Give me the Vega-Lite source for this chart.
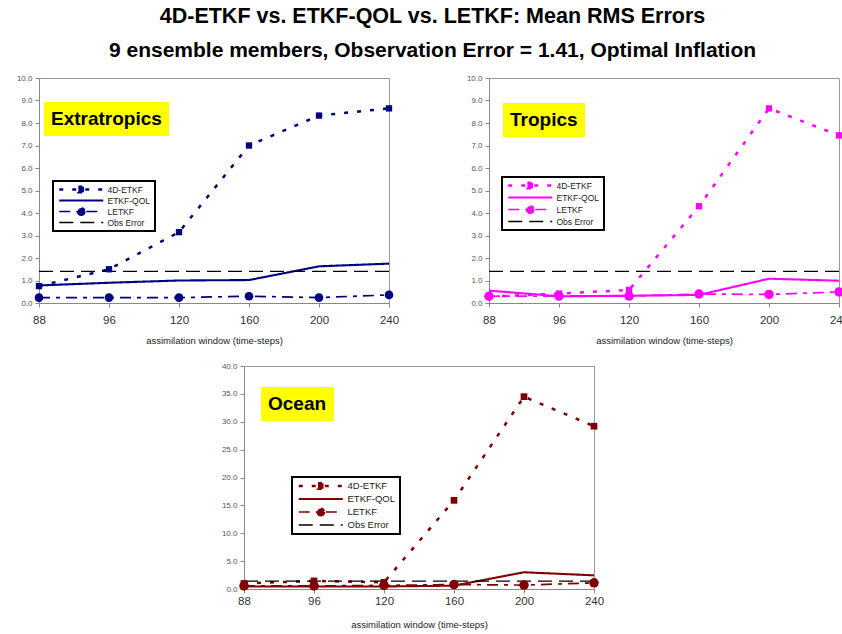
{
  "$schema": "https://vega.github.io/schema/vega-lite/v6.json",
  "background": "white",
  "padding": {"left": 15, "top": 5, "right": 0, "bottom": 0},
  "title": {
    "text": "4D-ETKF vs. ETKF-QOL vs. LETKF: Mean RMS Errors",
    "subtitle": "9 ensemble members, Observation Error = 1.41, Optimal Inflation",
    "font": "Liberation Sans",
    "fontSize": 21.5,
    "fontWeight": "bold",
    "color": "#000",
    "subtitleFont": "Liberation Sans",
    "subtitleFontSize": 21,
    "subtitleFontWeight": "bold",
    "subtitleColor": "#000",
    "subtitlePadding": 12.5,
    "anchor": "middle",
    "offset": 13
  },
  "datasets": {
    "rms": [
      {"panel": "Extratropics", "series": "4D-ETKF", "window": "88", "value": 0.75},
      {"panel": "Extratropics", "series": "4D-ETKF", "window": "96", "value": 1.5},
      {"panel": "Extratropics", "series": "4D-ETKF", "window": "120", "value": 3.15},
      {"panel": "Extratropics", "series": "4D-ETKF", "window": "160", "value": 7.0},
      {"panel": "Extratropics", "series": "4D-ETKF", "window": "200", "value": 8.33},
      {"panel": "Extratropics", "series": "4D-ETKF", "window": "240", "value": 8.65},
      {"panel": "Extratropics", "series": "ETKF-QOL", "window": "88", "value": 0.78},
      {"panel": "Extratropics", "series": "ETKF-QOL", "window": "96", "value": 0.9},
      {"panel": "Extratropics", "series": "ETKF-QOL", "window": "120", "value": 1.0},
      {"panel": "Extratropics", "series": "ETKF-QOL", "window": "160", "value": 1.02},
      {"panel": "Extratropics", "series": "ETKF-QOL", "window": "200", "value": 1.63},
      {"panel": "Extratropics", "series": "ETKF-QOL", "window": "240", "value": 1.75},
      {"panel": "Extratropics", "series": "LETKF", "window": "88", "value": 0.24},
      {"panel": "Extratropics", "series": "LETKF", "window": "96", "value": 0.24},
      {"panel": "Extratropics", "series": "LETKF", "window": "120", "value": 0.24},
      {"panel": "Extratropics", "series": "LETKF", "window": "160", "value": 0.3},
      {"panel": "Extratropics", "series": "LETKF", "window": "200", "value": 0.24},
      {"panel": "Extratropics", "series": "LETKF", "window": "240", "value": 0.36},
      {"panel": "Extratropics", "series": "Obs Error", "window": "88", "value": 1.41},
      {"panel": "Extratropics", "series": "Obs Error", "window": "96", "value": 1.41},
      {"panel": "Extratropics", "series": "Obs Error", "window": "120", "value": 1.41},
      {"panel": "Extratropics", "series": "Obs Error", "window": "160", "value": 1.41},
      {"panel": "Extratropics", "series": "Obs Error", "window": "200", "value": 1.41},
      {"panel": "Extratropics", "series": "Obs Error", "window": "240", "value": 1.41},
      {"panel": "Tropics", "series": "4D-ETKF", "window": "88", "value": 0.28},
      {"panel": "Tropics", "series": "4D-ETKF", "window": "96", "value": 0.42},
      {"panel": "Tropics", "series": "4D-ETKF", "window": "120", "value": 0.58},
      {"panel": "Tropics", "series": "4D-ETKF", "window": "160", "value": 4.3},
      {"panel": "Tropics", "series": "4D-ETKF", "window": "200", "value": 8.65},
      {"panel": "Tropics", "series": "4D-ETKF", "window": "240", "value": 7.45},
      {"panel": "Tropics", "series": "ETKF-QOL", "window": "88", "value": 0.55},
      {"panel": "Tropics", "series": "ETKF-QOL", "window": "96", "value": 0.3},
      {"panel": "Tropics", "series": "ETKF-QOL", "window": "120", "value": 0.32},
      {"panel": "Tropics", "series": "ETKF-QOL", "window": "160", "value": 0.36},
      {"panel": "Tropics", "series": "ETKF-QOL", "window": "200", "value": 1.08},
      {"panel": "Tropics", "series": "ETKF-QOL", "window": "240", "value": 0.99},
      {"panel": "Tropics", "series": "LETKF", "window": "88", "value": 0.3},
      {"panel": "Tropics", "series": "LETKF", "window": "96", "value": 0.31},
      {"panel": "Tropics", "series": "LETKF", "window": "120", "value": 0.31},
      {"panel": "Tropics", "series": "LETKF", "window": "160", "value": 0.4},
      {"panel": "Tropics", "series": "LETKF", "window": "200", "value": 0.38},
      {"panel": "Tropics", "series": "LETKF", "window": "240", "value": 0.49},
      {"panel": "Tropics", "series": "Obs Error", "window": "88", "value": 1.41},
      {"panel": "Tropics", "series": "Obs Error", "window": "96", "value": 1.41},
      {"panel": "Tropics", "series": "Obs Error", "window": "120", "value": 1.41},
      {"panel": "Tropics", "series": "Obs Error", "window": "160", "value": 1.41},
      {"panel": "Tropics", "series": "Obs Error", "window": "200", "value": 1.41},
      {"panel": "Tropics", "series": "Obs Error", "window": "240", "value": 1.41},
      {"panel": "Ocean", "series": "4D-ETKF", "window": "88", "value": 1.0},
      {"panel": "Ocean", "series": "4D-ETKF", "window": "96", "value": 1.45},
      {"panel": "Ocean", "series": "4D-ETKF", "window": "120", "value": 1.2},
      {"panel": "Ocean", "series": "4D-ETKF", "window": "160", "value": 15.9},
      {"panel": "Ocean", "series": "4D-ETKF", "window": "200", "value": 34.5},
      {"panel": "Ocean", "series": "4D-ETKF", "window": "240", "value": 29.2},
      {"panel": "Ocean", "series": "ETKF-QOL", "window": "88", "value": 0.45},
      {"panel": "Ocean", "series": "ETKF-QOL", "window": "96", "value": 0.45},
      {"panel": "Ocean", "series": "ETKF-QOL", "window": "120", "value": 0.45},
      {"panel": "Ocean", "series": "ETKF-QOL", "window": "160", "value": 0.6},
      {"panel": "Ocean", "series": "ETKF-QOL", "window": "200", "value": 3.0},
      {"panel": "Ocean", "series": "ETKF-QOL", "window": "240", "value": 2.45},
      {"panel": "Ocean", "series": "LETKF", "window": "88", "value": 0.55},
      {"panel": "Ocean", "series": "LETKF", "window": "96", "value": 0.55},
      {"panel": "Ocean", "series": "LETKF", "window": "120", "value": 0.65},
      {"panel": "Ocean", "series": "LETKF", "window": "160", "value": 0.8},
      {"panel": "Ocean", "series": "LETKF", "window": "200", "value": 0.7},
      {"panel": "Ocean", "series": "LETKF", "window": "240", "value": 1.1},
      {"panel": "Ocean", "series": "Obs Error", "window": "88", "value": 1.41},
      {"panel": "Ocean", "series": "Obs Error", "window": "96", "value": 1.41},
      {"panel": "Ocean", "series": "Obs Error", "window": "120", "value": 1.41},
      {"panel": "Ocean", "series": "Obs Error", "window": "160", "value": 1.41},
      {"panel": "Ocean", "series": "Obs Error", "window": "200", "value": 1.41},
      {"panel": "Ocean", "series": "Obs Error", "window": "240", "value": 1.41}
    ],
    "spacer": [{"a": 1}]
  },
  "data": {"name": "rms"},
  "resolve": {
    "scale": {"color": "independent", "strokeDash": "independent", "shape": "independent", "fill": "independent", "strokeWidth": "independent"},
    "legend": {"color": "independent", "strokeDash": "independent", "shape": "independent", "fill": "independent"}
  },
  "spacing": 15,
  "bounds": "full",
  "vconcat": [
    {
      "bounds": "flush",
      "spacing": 100,
      "resolve": {
        "scale": {"color": "independent", "strokeDash": "independent", "shape": "independent", "fill": "independent", "strokeWidth": "independent"},
        "legend": {"color": "independent", "strokeDash": "independent", "shape": "independent", "fill": "independent"}
      },
      "hconcat": [
        {
          "width": 350,
          "height": 225,
          "transform": [{"filter": "datum.panel == 'Extratropics'"}],
          "encoding": {
            "x": {"field": "window", "type": "ordinal", "sort": ["88", "96", "120", "160", "200", "240"], "scale": {"type": "point", "padding": 0}, "axis": {"title": "assimilation window (time-steps)"}},
            "y": {"field": "value", "type": "quantitative", "scale": {"domain": [0, 10], "nice": false}, "axis": {"title": null, "values": [0, 1, 2, 3, 4, 5, 6, 7, 8, 9, 10], "format": ".1f"}}
          },
          "layer": [
            {
              "mark": {"type": "line"},
              "encoding": {
                "color": {"field": "series", "type": "nominal", "scale": {"domain": ["4D-ETKF", "ETKF-QOL", "LETKF", "Obs Error"], "range": ["#000080", "#000080", "#000080", "#000000"]},
                  "legend": {"orient": "none", "legendX": 14, "legendY": 103, "title": null, "strokeColor": "#000", "fillColor": "#fff", "padding": 4, "labelFontSize": 8.5, "labelColor": "#222", "symbolSize": 16, "labelOffset": 42, "rowPadding": 2, "clipHeight": 9, "symbolStrokeWidth": 1.6, "symbolFillColor": "#000080", "encode": {"legend": {"update": {"strokeWidth": {"value": 2}}}}}},
                "strokeDash": {"field": "series", "type": "nominal", "scale": {"domain": ["4D-ETKF", "ETKF-QOL", "LETKF", "Obs Error"], "range": [[4, 9], [1, 0], [11, 6, 4, 6], [14, 7]]}},
                "strokeWidth": {"field": "series", "type": "nominal", "scale": {"domain": ["4D-ETKF", "ETKF-QOL", "LETKF", "Obs Error"], "range": [2.5, 1.3, 2, 2]}, "legend": null}
              }
            },
            {
              "transform": [{"filter": "datum.series == '4D-ETKF'"}],
              "mark": {"type": "point", "shape": "square", "filled": true, "size": 40, "color": "#000080", "opacity": 1}
            },
            {
              "transform": [{"filter": "datum.series == 'LETKF'"}],
              "mark": {"type": "point", "shape": "circle", "filled": true, "size": 75, "color": "#000080", "opacity": 1}
            },
            {
              "transform": [{"filter": "false"}],
              "mark": {"type": "point"},
              "encoding": {
                "shape": {"field": "series", "type": "nominal", "scale": {"domain": ["4D-ETKF", "ETKF-QOL", "LETKF", "Obs Error"], "range": ["M-1,0H21M8.6,-1.4H11.4V1.4H8.6Z", "M-1,0H21", "M-1,0H21M11.8,0A1.8,1.8,0,1,1,8.2,0A1.8,1.8,0,1,1,11.8,0Z", "M-1,0H21"]},
                  "legend": {"orient": "none", "legendX": 14, "legendY": 103, "title": null, "strokeColor": "#000", "fillColor": "#fff", "padding": 4, "labelFontSize": 8.5, "labelColor": "#222", "symbolSize": 16, "labelOffset": 42, "rowPadding": 2, "clipHeight": 9, "symbolStrokeWidth": 1.6, "symbolFillColor": "#000080"}}
              }
            },
            {
              "transform": [{"filter": "false"}],
              "mark": {"type": "point"},
              "encoding": {
                "fill": {"field": "panel", "type": "nominal", "scale": {"domain": ["Extratropics"], "range": ["#ffff00"]},
                  "legend": {"orient": "none", "legendX": 5, "legendY": 24, "title": null, "fillColor": "#ffff00", "padding": 7, "labelFontSize": 19, "labelFontWeight": "bold", "labelColor": "#000", "symbolSize": 0, "symbolOpacity": 0, "symbolStrokeWidth": 0, "labelOffset": -19}}
              }
            }
          ]
        },
        {
          "width": 350,
          "height": 225,
          "transform": [{"filter": "datum.panel == 'Tropics'"}],
          "encoding": {
            "x": {"field": "window", "type": "ordinal", "sort": ["88", "96", "120", "160", "200", "240"], "scale": {"type": "point", "padding": 0}, "axis": {"title": "assimilation window (time-steps)"}},
            "y": {"field": "value", "type": "quantitative", "scale": {"domain": [0, 10], "nice": false}, "axis": {"title": null, "values": [0, 1, 2, 3, 4, 5, 6, 7, 8, 9, 10], "format": ".1f"}}
          },
          "layer": [
            {
              "mark": {"type": "line"},
              "encoding": {
                "color": {"field": "series", "type": "nominal", "scale": {"domain": ["4D-ETKF", "ETKF-QOL", "LETKF", "Obs Error"], "range": ["#ff00ff", "#ff00ff", "#ff00ff", "#000000"]},
                  "legend": {"orient": "none", "legendX": 13, "legendY": 99, "title": null, "strokeColor": "#000", "fillColor": "#fff", "padding": 4, "labelFontSize": 8.5, "labelColor": "#222", "symbolSize": 16, "labelOffset": 42, "rowPadding": 3, "clipHeight": 9, "symbolStrokeWidth": 1.6, "symbolFillColor": "#ff00ff", "encode": {"legend": {"update": {"strokeWidth": {"value": 2}}}}}},
                "strokeDash": {"field": "series", "type": "nominal", "scale": {"domain": ["4D-ETKF", "ETKF-QOL", "LETKF", "Obs Error"], "range": [[4, 9], [1, 0], [11, 6, 4, 6], [14, 7]]}},
                "strokeWidth": {"field": "series", "type": "nominal", "scale": {"domain": ["4D-ETKF", "ETKF-QOL", "LETKF", "Obs Error"], "range": [2.5, 1.3, 2, 2]}, "legend": null}
              }
            },
            {
              "transform": [{"filter": "datum.series == '4D-ETKF'"}],
              "mark": {"type": "point", "shape": "square", "filled": true, "size": 40, "color": "#ff00ff", "opacity": 1}
            },
            {
              "transform": [{"filter": "datum.series == 'LETKF'"}],
              "mark": {"type": "point", "shape": "circle", "filled": true, "size": 90, "color": "#ff00ff", "opacity": 1}
            },
            {
              "transform": [{"filter": "false"}],
              "mark": {"type": "point"},
              "encoding": {
                "shape": {"field": "series", "type": "nominal", "scale": {"domain": ["4D-ETKF", "ETKF-QOL", "LETKF", "Obs Error"], "range": ["M-1,0H21M8.6,-1.4H11.4V1.4H8.6Z", "M-1,0H21", "M-1,0H21M11.8,0A1.8,1.8,0,1,1,8.2,0A1.8,1.8,0,1,1,11.8,0Z", "M-1,0H21"]},
                  "legend": {"orient": "none", "legendX": 13, "legendY": 99, "title": null, "strokeColor": "#000", "fillColor": "#fff", "padding": 4, "labelFontSize": 8.5, "labelColor": "#222", "symbolSize": 16, "labelOffset": 42, "rowPadding": 3, "clipHeight": 9, "symbolStrokeWidth": 1.6, "symbolFillColor": "#ff00ff"}}
              }
            },
            {
              "transform": [{"filter": "false"}],
              "mark": {"type": "point"},
              "encoding": {
                "fill": {"field": "panel", "type": "nominal", "scale": {"domain": ["Tropics"], "range": ["#ffff00"]},
                  "legend": {"orient": "none", "legendX": 14, "legendY": 25, "title": null, "fillColor": "#ffff00", "padding": 7, "labelFontSize": 19, "labelFontWeight": "bold", "labelColor": "#000", "symbolSize": 0, "symbolOpacity": 0, "symbolStrokeWidth": 0, "labelOffset": -19}}
              }
            }
          ]
        }
      ]
    },
    {
      "bounds": "flush",
      "spacing": 100,
      "resolve": {
        "scale": {"color": "independent", "strokeDash": "independent", "shape": "independent", "fill": "independent", "strokeWidth": "independent"},
        "legend": {"color": "independent", "strokeDash": "independent", "shape": "independent", "fill": "independent"}
      },
      "hconcat": [
        {
          "data": {"name": "spacer"},
          "width": 105,
          "height": 10,
          "view": {"stroke": null},
          "mark": {"type": "point", "opacity": 0},
          "encoding": {}
        },
        {
          "width": 350,
          "height": 223,
          "transform": [{"filter": "datum.panel == 'Ocean'"}],
          "encoding": {
            "x": {"field": "window", "type": "ordinal", "sort": ["88", "96", "120", "160", "200", "240"], "scale": {"type": "point", "padding": 0}, "axis": {"title": "assimilation window (time-steps)", "labelPadding": 2, "titlePadding": 13}},
            "y": {"field": "value", "type": "quantitative", "scale": {"domain": [0, 40], "nice": false}, "axis": {"title": null, "values": [0, 5, 10, 15, 20, 25, 30, 35, 40], "format": ".1f"}}
          },
          "layer": [
            {
              "mark": {"type": "line"},
              "encoding": {
                "color": {"field": "series", "type": "nominal", "scale": {"domain": ["4D-ETKF", "ETKF-QOL", "LETKF", "Obs Error"], "range": ["#800000", "#800000", "#800000", "#000000"]},
                  "legend": {"orient": "none", "legendX": 48, "legendY": 111, "title": null, "strokeColor": "#000", "fillColor": "#fff", "padding": 4, "labelFontSize": 9.5, "labelColor": "#222", "symbolSize": 16, "labelOffset": 42, "rowPadding": 3, "clipHeight": 10, "symbolStrokeWidth": 1.6, "symbolFillColor": "#800000", "encode": {"legend": {"update": {"strokeWidth": {"value": 2}}}}}},
                "strokeDash": {"field": "series", "type": "nominal", "scale": {"domain": ["4D-ETKF", "ETKF-QOL", "LETKF", "Obs Error"], "range": [[4, 9], [1, 0], [11, 6, 4, 6], [14, 7]]}},
                "strokeWidth": {"field": "series", "type": "nominal", "scale": {"domain": ["4D-ETKF", "ETKF-QOL", "LETKF", "Obs Error"], "range": [2.5, 1.3, 2, 2]}, "legend": null}
              }
            },
            {
              "transform": [{"filter": "datum.series == '4D-ETKF'"}],
              "mark": {"type": "point", "shape": "square", "filled": true, "size": 45, "color": "#800000", "opacity": 1}
            },
            {
              "transform": [{"filter": "datum.series == 'LETKF'"}],
              "mark": {"type": "point", "shape": "circle", "filled": true, "size": 90, "color": "#800000", "opacity": 1}
            },
            {
              "transform": [{"filter": "false"}],
              "mark": {"type": "point"},
              "encoding": {
                "shape": {"field": "series", "type": "nominal", "scale": {"domain": ["4D-ETKF", "ETKF-QOL", "LETKF", "Obs Error"], "range": ["M-1,0H21M8.6,-1.4H11.4V1.4H8.6Z", "M-1,0H21", "M-1,0H21M11.8,0A1.8,1.8,0,1,1,8.2,0A1.8,1.8,0,1,1,11.8,0Z", "M-1,0H21"]},
                  "legend": {"orient": "none", "legendX": 48, "legendY": 111, "title": null, "strokeColor": "#000", "fillColor": "#fff", "padding": 4, "labelFontSize": 9.5, "labelColor": "#222", "symbolSize": 16, "labelOffset": 42, "rowPadding": 3, "clipHeight": 10, "symbolStrokeWidth": 1.6, "symbolFillColor": "#800000"}}
              }
            },
            {
              "transform": [{"filter": "false"}],
              "mark": {"type": "point"},
              "encoding": {
                "fill": {"field": "panel", "type": "nominal", "scale": {"domain": ["Ocean"], "range": ["#ffff00"]},
                  "legend": {"orient": "none", "legendX": 17, "legendY": 21, "title": null, "fillColor": "#ffff00", "padding": 7, "labelFontSize": 19, "labelFontWeight": "bold", "labelColor": "#000", "symbolSize": 0, "symbolOpacity": 0, "symbolStrokeWidth": 0, "labelOffset": -19}}
              }
            }
          ]
        }
      ]
    }
  ],
  "config": {
    "font": "Liberation Sans",
    "view": {"stroke": "#999", "strokeWidth": 1},
    "axis": {"grid": false, "domainColor": "#888", "tickColor": "#888", "tickSize": 4},
    "axisX": {"labelAngle": 0, "labelFontSize": 11.5, "labelColor": "#333", "titleFontSize": 9.5, "titleFontWeight": "normal", "titleColor": "#222", "labelPadding": 7, "titlePadding": 10},
    "axisY": {"labelFontSize": 8, "labelColor": "#555", "labelPadding": 3},
    "legend": {"labelFont": "Liberation Sans"}
  }
}
